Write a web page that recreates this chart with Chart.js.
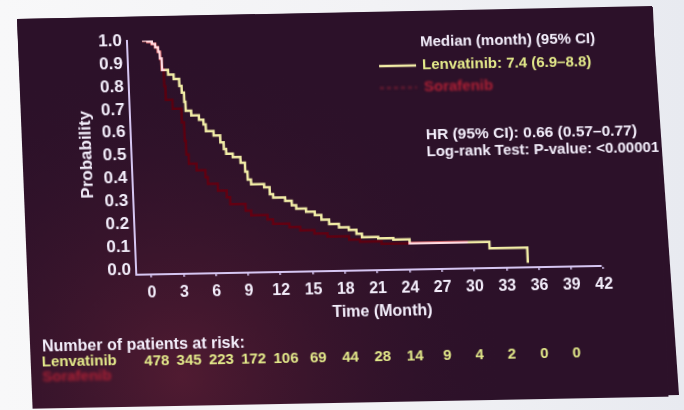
<!DOCTYPE html>
<html>
<head>
<meta charset="utf-8">
<script src="https://cdn.jsdelivr.net/npm/chart.js@4.4.0/dist/chart.umd.min.js"></script>
<style>
  html, body { margin: 0; padding: 0; width: 684px; height: 410px; overflow: hidden;
    background: linear-gradient(90deg, #f8f8f9 0%, #f2f2f5 55%, #e8eaf0 100%); }
  #board { position: absolute; left: 0; top: 0; width: 684px; height: 410px;
    clip-path: polygon(17px 19px, 652px 6px, 679px 395px, 35px 408px);
    background: #2c1129; }
  #slide { position: absolute; left: 0; top: 0; width: 636px; height: 390px;
    transform-origin: 0 0; transform: matrix(1, -0.0189, 0.04, 1, 17, 19); }
  #slide canvas { display: block; }
</style>
</head>
<body>
<div id="board"></div>
<div id="slide"><canvas id="km" width="636" height="390"></canvas></div>
<script>
// Axis ticks
const xTickValues = [0, 3, 6, 9, 12, 15, 18, 21, 24, 27, 30, 33, 36, 39, 42];
const yTickValues = [0, 0.1, 0.2, 0.3, 0.4, 0.5, 0.6, 0.7, 0.8, 0.9, 1.0];

// Kaplan-Meier estimates: event times (months) and survival probability after each drop
const lenvatinibMonths = [0, 0.5, 0.9, 1.2, 1.45, 1.6, 1.75, 2.3, 2.8, 3.3, 3.5, 3.7, 3.8, 4.3, 5.0, 5.4, 5.6, 6.3, 6.9, 7.2, 7.4,
  8.0, 8.7, 9.1, 9.3, 9.6, 10.8, 11.3, 11.6, 12.7, 13.3, 13.7, 14.6, 15.4, 16.0, 16.7, 17.6, 18.5, 19.2, 19.7, 21.2, 22.6, 24.1, 31.5, 35.0];
const lenvatinibSurvival = [1.0, 0.995, 0.985, 0.97, 0.95, 0.92, 0.87, 0.85, 0.83, 0.80, 0.77, 0.73, 0.69, 0.67, 0.65, 0.63, 0.60, 0.58, 0.55, 0.52, 0.50,
  0.485, 0.46, 0.42, 0.385, 0.365, 0.35, 0.32, 0.305, 0.29, 0.27, 0.255, 0.24, 0.225, 0.205, 0.185, 0.17, 0.158, 0.14, 0.125, 0.118, 0.112, 0.094, 0.066, 0.0];

const sorafenibMonths = [0, 0.5, 0.9, 1.2, 1.45, 1.6, 1.75, 1.9, 2.0, 2.6, 3.4, 3.6, 3.7, 3.9, 4.6, 5.4, 5.6, 6.5, 7.3, 7.6,
  9.0, 9.5, 11.0, 11.5, 13.0, 14.0, 15.3, 16.5, 18.5, 19.5, 21.5, 29.5];
const sorafenibSurvival = [1.0, 0.995, 0.985, 0.97, 0.95, 0.92, 0.87, 0.80, 0.74, 0.70, 0.64, 0.56, 0.50, 0.46, 0.43, 0.40, 0.37, 0.34, 0.31, 0.28,
  0.25, 0.23, 0.21, 0.19, 0.175, 0.16, 0.145, 0.13, 0.115, 0.105, 0.094, 0.094];

// Number at risk
const riskMonths = [0, 3, 6, 9, 12, 15, 18, 21, 24, 27, 30, 33, 36, 39];
const lenvatinibAtRisk = [478, 345, 223, 172, 106, 69, 44, 28, 14, 9, 4, 2, 0, 0];

// Text
const xTitle = 'Time (Month)';
const yTitle = 'Probability';
const legendHeader = 'Median (month) (95% CI)';
const lenvatinibLegend = 'Lenvatinib: 7.4 (6.9–8.8)';
const sorafenibLegend = 'Sorafenib';
const hazardText = 'HR (95% CI): 0.66 (0.57–0.77)';
const logRankText = 'Log-rank Test: P-value: <0.00001';
const riskTitle = 'Number of patients at risk:';

const FONT = "'Liberation Sans', Arial, 'DejaVu Sans', sans-serif";
const SLIDE = '#2c1129';
const AXIS = '#d6c6f2';
const WHITE = '#f3eefb';
const YELLOW = '#f1eca6';
const YELLOW_TEXT = '#e3e98a';
const RED = 'rgb(235,40,75)';

const pairs = (xs, ys) => xs.map((x, i) => ({ x, y: ys[i] }));

// Slide background painted into the canvas so the red arm can blend with it
const slideBackground = {
  id: 'slideBackground',
  beforeDraw(chart) {
    const ctx = chart.ctx;
    ctx.save();
    ctx.fillStyle = SLIDE;
    ctx.fillRect(0, 0, chart.width, chart.height);
    const g = ctx.createRadialGradient(150, 360, 0, 150, 360, 330);
    g.addColorStop(0, 'rgba(92,30,52,0.75)');
    g.addColorStop(0.55, 'rgba(70,24,46,0.3)');
    g.addColorStop(1, 'rgba(44,17,41,0)');
    ctx.fillStyle = g;
    ctx.fillRect(0, 0, chart.width, chart.height);
    ctx.restore();
  }
};

// The red arm is blended by colour: it tints what lies beneath it
const redBlend = {
  id: 'redBlend',
  beforeDatasetDraw(chart, args) {
    if (args.index === 0) chart.ctx.globalCompositeOperation = 'color';
  },
  afterDatasetDraw(chart) {
    chart.ctx.globalCompositeOperation = 'source-over';
  }
};

const annotations = {
  id: 'annotations',
  afterDraw(chart) {
    const ctx = chart.ctx;
    const xs = chart.scales.x;
    const area = chart.chartArea;
    ctx.save();
    ctx.textBaseline = 'middle';
    ctx.textAlign = 'left';

    // axis titles
    ctx.fillStyle = WHITE;
    ctx.font = 'bold 16px ' + FONT;
    ctx.textAlign = 'center';
    ctx.fillText(xTitle, (area.left + area.right) / 2 + 12, 300);
    ctx.save();
    ctx.translate(64, (area.top + area.bottom) / 2 - 4);
    ctx.rotate(-Math.PI / 2);
    ctx.font = 'bold 17px ' + FONT;
    ctx.fillText(yTitle, 0, 0);
    ctx.restore();
    ctx.textAlign = 'left';

    // legend block
    ctx.font = 'bold 15px ' + FONT;
    ctx.fillStyle = WHITE;
    ctx.fillText(legendHeader, 402, 31);
    ctx.strokeStyle = YELLOW;
    ctx.lineWidth = 2.5;
    ctx.beginPath(); ctx.moveTo(360, 54); ctx.lineTo(397, 54); ctx.stroke();
    ctx.fillStyle = YELLOW_TEXT;
    ctx.fillText(lenvatinibLegend, 403, 54);

    ctx.save();
    ctx.filter = 'blur(1.2px)';
    ctx.strokeStyle = 'rgba(190,40,60,0.4)';
    ctx.setLineDash([4, 3]);
    ctx.beginPath(); ctx.moveTo(360, 76); ctx.lineTo(397, 76); ctx.stroke();
    ctx.setLineDash([]);
    ctx.fillStyle = 'rgba(200,35,55,0.85)';
    ctx.fillText(sorafenibLegend, 404, 76);
    ctx.restore();

    ctx.fillStyle = WHITE;
    ctx.font = 'bold 15.5px ' + FONT;
    ctx.fillText(hazardText, 404, 124);
    ctx.font = 'bold 15px ' + FONT;
    ctx.fillText(logRankText, 404, 141);

    // number at risk table
    ctx.font = 'bold 16px ' + FONT;
    ctx.fillText(riskTitle, 12, 329);
    ctx.font = 'bold 15px ' + FONT;
    ctx.fillStyle = YELLOW_TEXT;
    ctx.fillText('Lenvatinib', 11, 344);
    ctx.textAlign = 'center';
    riskMonths.forEach((m, i) => {
      ctx.fillText(String(lenvatinibAtRisk[i]), xs.getPixelForValue(m) + 2, 345);
    });
    ctx.textAlign = 'left';
    ctx.save();
    ctx.filter = 'blur(1.5px)';
    ctx.fillStyle = 'rgba(200,35,55,0.8)';
    ctx.fillText('Sorafenib', 11, 359);
    ctx.restore();
    ctx.restore();
  }
};

new Chart(document.getElementById('km'), {
  type: 'line',
  data: {
    datasets: [
      {
        label: 'Sorafenib',
        data: pairs(sorafenibMonths, sorafenibSurvival),
        stepped: 'before',
        borderColor: RED,
        borderWidth: 2.5,
        pointRadius: 0,
        fill: false
      },
      {
        label: 'Lenvatinib',
        data: pairs(lenvatinibMonths, lenvatinibSurvival),
        stepped: 'before',
        borderColor: YELLOW,
        borderWidth: 2.5,
        pointRadius: 0,
        fill: false
      }
    ]
  },
  options: {
    responsive: false,
    animation: false,
    events: [],
    layout: { padding: { left: 0, top: 24, right: 62, bottom: 0 } },
    plugins: { legend: { display: false }, tooltip: { enabled: false } },
    scales: {
      x: {
        type: 'linear',
        min: -1.4,
        max: 41.8,
        afterBuildTicks: s => { s.ticks = xTickValues.map(v => ({ value: v })); },
        afterFit: s => { s.height = 132; },
        ticks: {
          color: WHITE, padding: 6, maxRotation: 0, autoSkip: false,
          font: { family: FONT, size: 16, weight: 'bold' },
          callback: v => String(v)
        },
        grid: { display: true, drawOnChartArea: false, drawTicks: true, tickLength: 3, color: AXIS, lineWidth: 1.5 },
        border: { display: true, color: AXIS, width: 2 }
      },
      y: {
        type: 'linear',
        min: -0.02,
        max: 1.0,
        afterBuildTicks: s => { s.ticks = yTickValues.map(v => ({ value: v })); },
        afterFit: s => { s.width = 109; },
        ticks: {
          color: WHITE, padding: 5,
          font: { family: FONT, size: 17, weight: 'bold' },
          callback: v => Number(v).toFixed(1)
        },
        grid: { display: false, drawTicks: false },
        border: { display: true, color: AXIS, width: 2 }
      }
    }
  },
  plugins: [slideBackground, redBlend, annotations]
});
</script>
</body>
</html>
